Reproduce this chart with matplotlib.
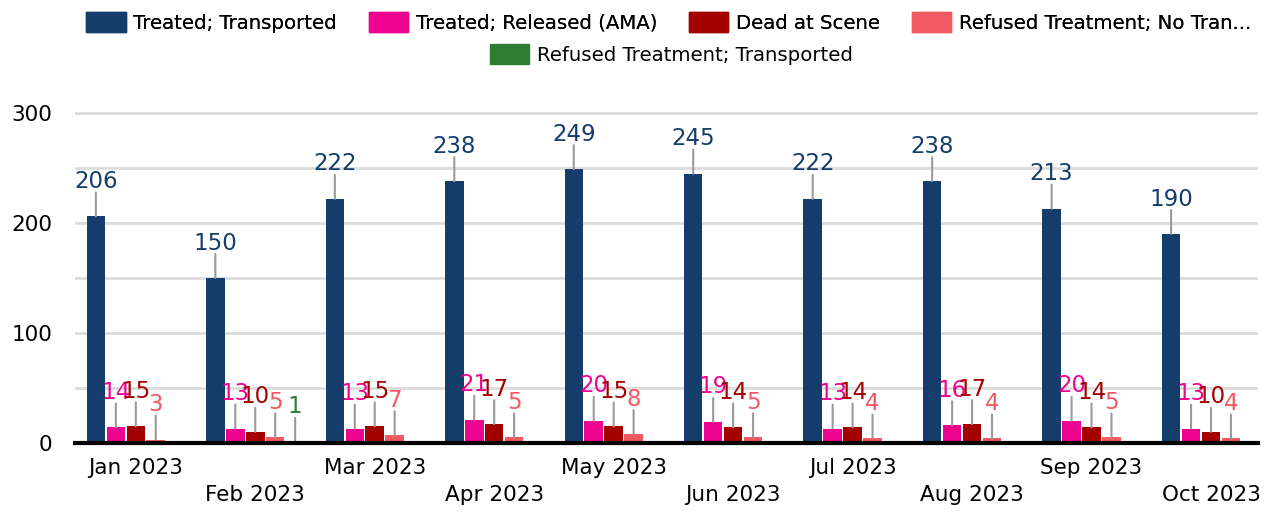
import numpy as np
import matplotlib
matplotlib.use("Agg")
import matplotlib.pyplot as plt
from matplotlib.patches import Patch

months = ["Jan 2023", "Feb 2023", "Mar 2023", "Apr 2023", "May 2023",
          "Jun 2023", "Jul 2023", "Aug 2023", "Sep 2023", "Oct 2023"]

series_names = ["Treated; Transported", "Treated; Released (AMA)", "Dead at Scene",
                "Refused Treatment; No Tran...", "Refused Treatment; Transported"]

treated_transported = [206, 150, 222, 238, 249, 245, 222, 238, 213, 190]
treated_released    = [14, 13, 13, 21, 20, 19, 13, 16, 20, 13]
dead_at_scene       = [15, 10, 15, 17, 15, 14, 14, 17, 14, 10]
refused_no_trans    = [3, 5, 7, 5, 8, 5, 4, 4, 5, 4]
refused_transported = [None, 1, None, None, None, None, None, None, None, None]

colors = ["#143d6c", "#ee0290", "#a30000", "#f25a63", "#2e7d32"]
GRAY = "#9a9a9a"

plt.rcParams["font.family"] = "DejaVu Sans"

fig = plt.figure(figsize=(12.69, 5.12), dpi=100)
ax = fig.add_axes([0.059, 0.135, 0.932, 0.687])

all_series = [treated_transported, treated_released, dead_at_scene,
              refused_no_trans, refused_transported]
x = np.arange(len(months))
slot = 0.167
width = 0.155
px = 0.72  # points per pixel at dpi 100

for i, (vals, col) in enumerate(zip(all_series, colors)):
    xs = x + (i - 2) * slot
    for xi, v in zip(xs, vals):
        if v is None:
            continue
        ax.bar(xi, v, width=width, color=col, zorder=3)
        ax.annotate("", xy=(xi, v), xytext=(0, 24 * px), textcoords="offset points",
                    arrowprops=dict(arrowstyle="-", color=GRAY, lw=1.5,
                                    shrinkA=0, shrinkB=0), zorder=4)
        ax.annotate(str(v), xy=(xi, v), xytext=(0, 35 * px), textcoords="offset points",
                    ha="center", va="center", fontsize=16.5, color=col, zorder=5)

ax.set_ylim(0, 320)
ax.set_xlim(-0.51, 9.39)
ax.set_yticks([0, 100, 200, 300])
ax.set_yticks([50, 150, 250], minor=True)
ax.tick_params(axis="y", which="both", length=0, labelsize=15.5, pad=16)
ax.grid(axis="y", which="both", color="#dcdcdc", lw=2, zorder=0)
ax.set_axisbelow(True)

ax.set_xticks(x)
ax.set_xticklabels([m if k % 2 == 0 else "\n" + m for k, m in enumerate(months)],
                   fontsize=15.5, linespacing=1.45)
ax.tick_params(axis="x", length=0, pad=11)

for s in ["top", "right", "left"]:
    ax.spines[s].set_visible(False)
ax.spines["bottom"].set_color("black")
ax.spines["bottom"].set_linewidth(3)
ax.spines["bottom"].set_zorder(6)

handles = [Patch(color=c) for c in colors]
leg_kw = dict(frameon=False, fontsize=14.2, handlelength=2.0, handleheight=1.24,
              handletextpad=0.4, columnspacing=1.6)
leg1 = fig.legend(handles[:4], series_names[:4], loc="center", ncol=4,
                  bbox_to_anchor=(0.527, 0.957), **leg_kw)
fig.legend(handles[4:], series_names[4:], loc="center", ncol=1,
           bbox_to_anchor=(0.529, 0.894), **leg_kw)
fig.add_artist(leg1)

fig.savefig("out.png", dpi=100)
